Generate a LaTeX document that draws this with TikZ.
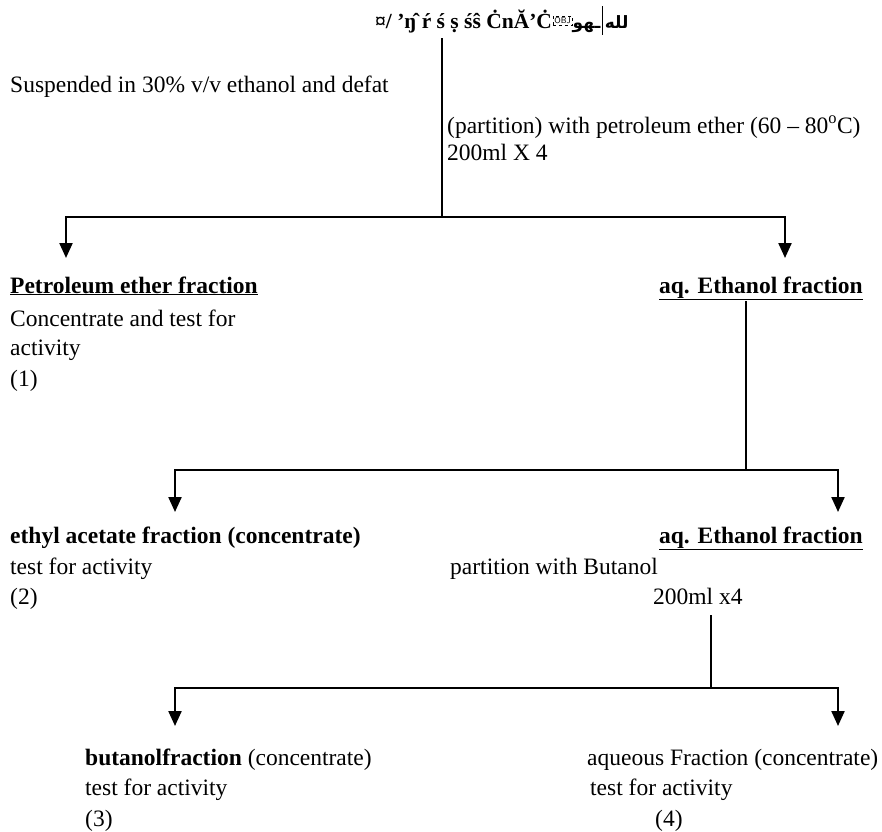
\documentclass[tikz,border=0pt]{standalone}
\usepackage{fontspec}
\setmainfont{Liberation Serif}
\newfontfamily\arabicfont[Script=Arabic]{DejaVu Sans}
\TeXXeTstate=1
\usetikzlibrary{arrows.meta}
\begin{document}
\begin{tikzpicture}[x=1pt,y=-1pt,
  txt/.style={inner sep=0pt, anchor=base west, font=\fontsize{23.5}{29}\selectfont},
  txte/.style={txt, anchor=base east},
  stem/.style={line width=1.5pt},
  branch/.style={line width=2.2pt, -{Triangle[length=15pt,width=13pt]}}]
\useasboundingbox (0,0) rectangle (882,831);

% title (garbled as in source)
\node[txt, font=\fontsize{21.5}{26}\bfseries] (title) at (375,28) {¤/\ ’ŋ̂ ŕ ś ṣ śŝ ĊnĂ’Ċ};
\node[draw, dashed, line width=0.4pt, inner sep=1.5pt, font=\fontsize{8.5}{9}\sffamily, anchor=west] (obj) at ([xshift=0.5pt,yshift=7pt]title.base east) {OBJ};
\node[inner sep=0pt, anchor=base west, font=\fontsize{17}{22}\arabicfont\bfseries] (arab1) at (title.base east -| obj.east) {\beginR ـهو\endR};
\node[inner sep=0pt, anchor=base west, font=\fontsize{17}{22}\arabicfont\bfseries] (arab2) at ([xshift=4pt]arab1.base east) {\beginR لله\endR};
\coordinate (pt) at ([xshift=2pt]arab1.east |- 0,6);
\coordinate (pb) at ([xshift=2pt]arab1.east |- 0,35);
\draw[line width=1.4pt] (pt) -- (pb);

% level 1
\coordinate (s0) at (442,38);
\coordinate (j1) at (442,217);
\coordinate (a1) at (66,258);
\coordinate (a2) at (785,258);
\draw[stem] (s0) -- (j1);
\draw[branch] (j1) -| (a1);
\draw[branch] (j1) -| (a2);

\node[txt] (susp) at (10,92) {Suspended in 30\% v/v ethanol and defat};
\node[txt] (part) at (447,133) {(partition) with petroleum ether (60 – 80\textsuperscript{o}C)};
\node[txt] (ml1) at (447,160) {200ml X 4};

\node[txt, font=\fontsize{23.5}{29}\bfseries] (pet) at (10,293) {\underline{Petroleum ether fraction}};
\node[txt] (pet1) at (10,326) {Concentrate and test for};
\node[txt] (pet2) at (10,355) {activity};
\node[txt] (pet3) at (10,386) {(1)};

\node[txte, font=\fontsize{23.5}{29}\bfseries] (aq1) at (863,293) {\underline{aq. Ethanol fraction}};

% level 2
\coordinate (s1) at (746,301);
\coordinate (j2) at (746,470);
\coordinate (b1) at (175,512);
\coordinate (b2) at (838,512);
\draw[stem] (s1) -- (j2);
\draw[branch] (j2) -| (b1);
\draw[branch] (j2) -| (b2);

\node[txt, font=\fontsize{23.5}{29}\bfseries] (eth) at (10,543) {ethyl acetate fraction (concentrate)};
\node[txt] (eth1) at (10,574) {test for activity};
\node[txt] (eth2) at (10,604) {(2)};

\node[txte, font=\fontsize{23.5}{29}\bfseries] (aq2) at (863,543) {\underline{aq. Ethanol fraction}};
\node[txt] (pb1) at (450,574) {partition with Butanol};
\node[txt] (pb2) at (653,604) {200ml x4};

% level 3
\coordinate (s2) at (711,615);
\coordinate (j3) at (711,688);
\coordinate (c1) at (175,726);
\coordinate (c2) at (838,726);
\draw[stem] (s2) -- (j3);
\draw[branch] (j3) -| (c1);
\draw[branch] (j3) -| (c2);

\node[txt] (but) at (85,765) {\textbf{butanolfraction} (concentrate)};
\node[txt] (but1) at (85,795) {test for activity};
\node[txt] (but2) at (85,826) {(3)};

\node[txt] (aqu) at (587,765) {aqueous Fraction (concentrate)};
\node[txt] (aqu1) at (590,795) {test for activity};
\node[txt] (aqu2) at (655,826) {(4)};
\end{tikzpicture}
\end{document}
